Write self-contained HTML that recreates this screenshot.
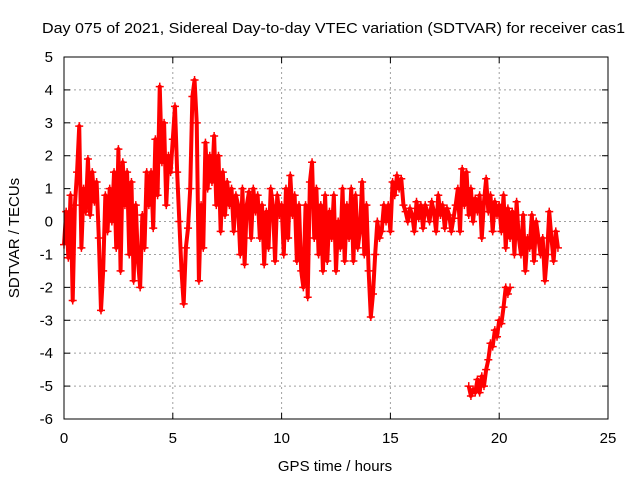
<!DOCTYPE html>
<html><head><meta charset="utf-8"><style>
body{margin:0;background:#fff}
svg{display:block;font-family:"Liberation Sans",sans-serif}
</style></head><body>
<svg id="chart" width="640" height="480" viewBox="0 0 640 480" xmlns="http://www.w3.org/2000/svg">
<rect width="640" height="480" fill="#fff"/>
<text x="42" y="33" font-size="15" textLength="583" lengthAdjust="spacingAndGlyphs" fill="#000">Day 075 of 2021, Sidereal Day-to-day VTEC variation (SDTVAR) for receiver cas1</text>
<text transform="translate(19,238) rotate(-90)" font-size="15" text-anchor="middle">SDTVAR / TECUs</text>
<text x="335" y="471" font-size="15" text-anchor="middle">GPS time / hours</text>
<g id="grid"></g><g id="ticks"></g><g id="marks"></g>
<rect x="64" y="57" width="544" height="362" fill="none" stroke="#000" stroke-width="1"/>
</svg>
<script>
const xTicks=[0,5,10,15,20,25];
const yTicks=[5,4,3,2,1,0,-1,-2,-3,-4,-5,-6];
const mainStart=0, mainStep=0.1;
const mainValues=[-0.7,0.3,-1.1,0.8,-2.4,0.5,1.5,2.9,-0.8,1.0,
0.3,1.9,0.2,1.5,0.6,1.2,-0.5,-2.7,-1.5,0.8,
-0.3,1.0,0,1.5,-0.8,2.2,-1.5,1.8,0.5,1.5,
-1.0,1.2,-1.8,0.5,-1.2,-2.0,0.2,-0.8,1.5,0.5,
1.5,-0.2,2.5,0.8,4.1,1.8,3.0,0.5,2.0,1.5,
2.5,3.5,1.5,0,-1.5,-2.5,-0.8,-0.2,1.0,3.8,
4.3,3.0,-1.8,0.5,-0.8,2.4,1.0,2.0,1.2,2.6,
0.5,2.0,-0.3,1.5,0.2,1.2,0.5,1.0,-0.3,0.8,
0.5,-1.0,1.0,-1.3,0.5,0.9,-0.5,1.0,0.3,0.8,
-0.5,0.5,-1.3,0.3,-0.8,1.0,0.5,-1.2,0.8,0.2,
0.5,-1.0,1.0,-0.5,1.4,0.2,0.8,-1.2,0.5,-1.5,
-2.0,0.5,-2.3,1.2,1.8,-0.5,1.0,-1.0,0.5,-1.5,
0.8,-1.2,0.3,-0.5,0.8,-1.5,0,-0.8,1.0,-1.2,
0.5,-0.5,1.0,-1.2,0.8,-0.8,-0.3,1.2,-1.0,0.5,
-1.5,-2.9,-2.2,-1.0,0,-0.5,-0.3,0.5,0,0.5,
-0.3,1.2,0.8,1.4,1.0,1.3,0.5,0.3,0,0.4,
0.2,-0.3,0.6,0.1,0.5,-0.2,0.5,0.3,0,0.6,
0.3,-0.3,0.8,0.2,0.5,-0.2,0.4,0.2,-0.3,0.1,
0.5,1.0,-0.3,1.6,0.5,1.5,0.2,1.0,0,0.7,
0.3,0.8,-0.5,0.6,1.3,0.3,0.8,-0.3,0.6,0.2,
0.5,-0.3,0.8,-0.8,0.4,-0.5,0.3,-1.0,0.6,-0.5,
-1.0,0.2,-1.5,-0.5,-0.8,0.2,-1.2,0,-0.5,-1.0,
-0.5,-1.8,-1.0,0.3,-0.5,-1.2,-0.3,-0.8];
const dipStart=18.6, dipStep=0.1;
const dipValues=[-5.0,-5.3,-5.1,-5.2,-4.8,-5.2,-4.7,-5.0,-4.5,-4.2,-3.7,-3.8,-3.3,-3.5,-3.0,-3.1,-2.6,-2.0,-2.2,-2.0];

const NS="http://www.w3.org/2000/svg";
const X0=64,X1=608,Y0=419,Y1=57;
function xs(v){return X0+(v-0)/(25-0)*(X1-X0);}
function ys(v){return Y0-(v+6)/11*(Y0-Y1);}
function mk(tag,attrs,parent){const e=document.createElementNS(NS,tag);for(const k in attrs)e.setAttribute(k,attrs[k]);parent.appendChild(e);return e;}
const grid=document.getElementById('grid'),ticks=document.getElementById('ticks'),marks=document.getElementById('marks');
xTicks.forEach(t=>{const x=xs(t);
 if(t>0&&t<25){const g=mk('line',{x1:x,x2:x,y1:Y0,y2:Y1,stroke:'#a0a0a0','stroke-dasharray':'2,3'},grid);
 
 }
 mk('line',{x1:x,x2:x,y1:Y0,y2:Y0-6,stroke:'#000'},ticks);
 mk('line',{x1:x,x2:x,y1:Y1,y2:Y1+6,stroke:'#000'},ticks);
 const l=mk('text',{x:x,y:443,'font-size':15,'text-anchor':'middle'},ticks);l.textContent=t;
 
 
});
yTicks.forEach(t=>{const y=ys(t);
 if(t<5&&t>-6){const g=mk('line',{x1:X0,x2:X1,y1:y,y2:y,stroke:'#a0a0a0','stroke-dasharray':'2,3'},grid);
 
 }
 mk('line',{x1:X0,x2:X0+6,y1:y,y2:y,stroke:'#000'},ticks);
 mk('line',{x1:X1,x2:X1-6,y1:y,y2:y,stroke:'#000'},ticks);
 const l=mk('text',{x:53,y:y+5,'font-size':15,'text-anchor':'end'},ticks);l.textContent=t;
 
 
});
function drawSeries(start,step,vals,name){
 let d='',pts=[];
 vals.forEach((v,i)=>{const x=xs(start+i*step),y=ys(v);pts.push(x+','+y);
  d+='M'+(x-4)+' '+y+'h8M'+x+' '+(y-4)+'v8';});
 const pl=mk('polyline',{points:pts.join(' '),fill:'none',stroke:'#f00','stroke-width':4,'stroke-linejoin':'round'},marks);
 
 
 const p=mk('path',{d:d,stroke:'#f00','stroke-width':1.5,fill:'none'},marks);
 
 
}
drawSeries(mainStart,mainStep,mainValues,'sdtvar-main');
drawSeries(dipStart,dipStep,dipValues,'sdtvar-dip');
</script>
</body></html>
